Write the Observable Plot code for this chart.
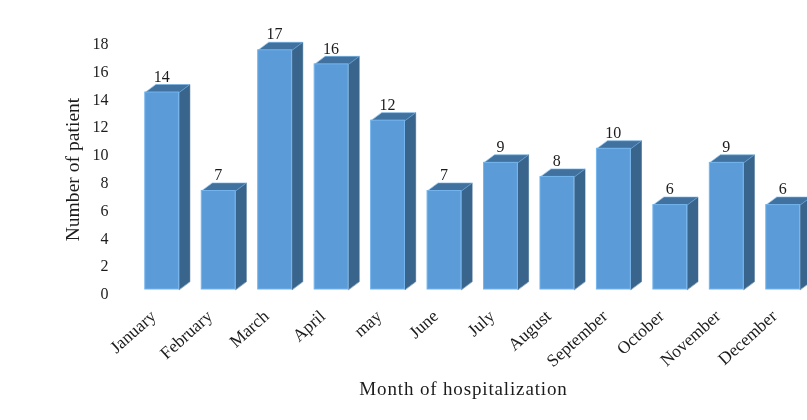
<!DOCTYPE html>
<html>
<head>
<meta charset="utf-8">
<script src="https://cdn.jsdelivr.net/npm/d3@7"></script>
<script src="https://cdn.jsdelivr.net/npm/@observablehq/plot@0.6"></script>
<style>
html,body{margin:0;padding:0;background:#fff;overflow:hidden}
svg{display:block;filter:blur(.45px)}
</style>
</head>
<body>
<div id="chart"></div>
<script>
const months = ["January","February","March","April","may","June","July","August","September","October","November","December"];
const patients = [14,7,17,16,12,7,9,8,10,6,9,6];
const yTicks = [0,2,4,6,8,10,12,14,16,18];
const xLabel = "Month of hospitalization";
const yLabel = "Number of patient";

const halfWidth = 0.3, depthX = 0.19, depthY = 0.57;
const rows = patients.map((v,i)=>({i,v,name:months[i]}));
const face = pts => rows.flatMap(r => pts(r).map(([x,y]) => ({x,y,z:r.i})));
const topFace = face(r => [[r.i-halfWidth,r.v],[r.i+halfWidth,r.v],[r.i+halfWidth+depthX,r.v+depthY],[r.i-halfWidth+depthX,r.v+depthY]]);
const sideFace = face(r => [[r.i+halfWidth,0],[r.i+halfWidth,r.v],[r.i+halfWidth+depthX,r.v+depthY],[r.i+halfWidth+depthX,depthY]]);

const font = "'Liberation Serif','Times New Roman',serif";
const ink = "#1c1c1c";
const chart = Plot.plot({
  width: 807, height: 420,
  marginTop: 0, marginRight: 0, marginBottom: 0, marginLeft: 0,
  style: {fontFamily: font, background: "#fff", overflow: "hidden"},
  x: {domain: [-2.865, 11.43], range: [0, 807], axis: null},
  y: {domain: [-9.31, 20.54], range: [420, 0], axis: null},
  marks: [
    Plot.line(sideFace, {x:"x", y:"y", z:"z", curve:"linear-closed", fill:"#39658c", stroke:"#39658c", strokeWidth:.5}),
    Plot.line(topFace, {x:"x", y:"y", z:"z", curve:"linear-closed", fill:"#41729f", stroke:"#6aaee8", strokeWidth:.6}),
    Plot.rectY(rows, {x1:d=>d.i-halfWidth, x2:d=>d.i+halfWidth, y1:0, y2:"v", fill:"#5b9bd8", stroke:"#74b5ee", strokeWidth:1}),
    Plot.text(rows, {x:d=>d.i-0.01, y:"v", text:d=>String(d.v), dy:-16, fontSize:16, fill:ink}),
    ...yTicks.map(t => Plot.text([t], {frameAnchor:"left", y:d=>d, text:d=>String(d), dx:108, dy:4.5+0.18*t, textAnchor:"end", fontSize:16, fill:ink})),
    Plot.text(rows, {x:"i", frameAnchor:"bottom", text:"name", rotate:-42, textAnchor:"end", dx:-9, dy:-107, lineAnchor:"middle", fontSize:17.5, fill:ink}),
    Plot.text([xLabel], {frameAnchor:"bottom", textAnchor:"middle", text:d=>d, dx:59.5, dy:-32, lineAnchor:"middle", fontSize:19, fill:ink}),
    Plot.text([yLabel], {frameAnchor:"left", textAnchor:"middle", text:d=>d, rotate:-90, dx:72, dy:-41, lineAnchor:"middle", fontSize:19.6, fill:ink})
  ]
});
d3.select(chart).selectAll("text").filter(function(){ return this.textContent === xLabel; }).style("letter-spacing", "0.85px");
document.getElementById("chart").append(chart);
</script>
</body>
</html>
